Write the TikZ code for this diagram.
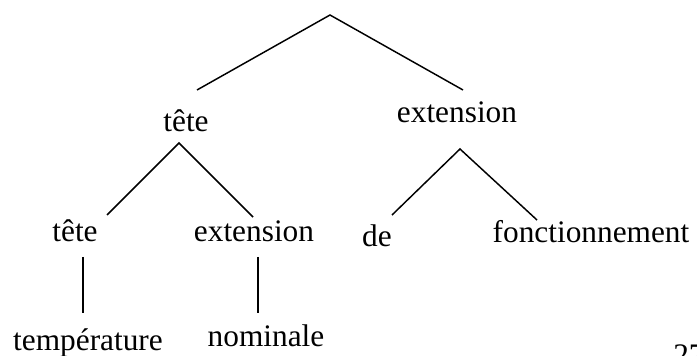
\documentclass[tikz,border=0pt]{standalone}
\usepackage{fontspec}
\setmainfont{Liberation Serif}
\begin{document}
\begin{tikzpicture}[x=0.75pt,y=-0.75pt,
  lbl/.style={anchor=base,inner sep=0pt,font=\fontsize{23.5pt}{28pt}\selectfont},
  edge/.style={draw=black,line width=1.1pt}]
\useasboundingbox (0,0) rectangle (697,356);
\clip (0,0) rectangle (697,356);
% labels
\node[lbl] (t1) at (186,132) {tête};
\node[lbl] (e1) at (457,123) {extension};
\node[lbl] (t2) at (75,242) {tête};
\node[lbl] (e2) at (254,242) {extension};
\node[lbl] (de) at (377,247) {de};
\node[lbl] (fo) at (591,243) {fonctionnement};
\node[lbl] (te) at (88,350) {température};
\node[lbl] (no) at (266,347) {nominale};
\node[lbl,anchor=base west] (pg) at (673,366) {27};
% connector end points
\coordinate (r) at (330,15);
\coordinate (ra) at (197,90);
\coordinate (rb) at (463,90);
\coordinate (t1a) at (179,143);
\coordinate (t1l) at (107,215);
\coordinate (t1r) at (253,217);
\coordinate (e1a) at (460,149);
\coordinate (e1l) at (392,215);
\coordinate (e1r) at (537,220);
\coordinate (v1a) at (83,257);
\coordinate (v1b) at (83,313);
\coordinate (v2a) at (258,257);
\coordinate (v2b) at (258,313);
% connectors
\draw[edge] (ra) -- (r) -- (rb);
\draw[edge] (t1l) -- (t1a) -- (t1r);
\draw[edge] (e1l) -- (e1a) -- (e1r);
\draw[edge] (v1a) -- (v1b);
\draw[edge] (v2a) -- (v2b);
\end{tikzpicture}
\end{document}
